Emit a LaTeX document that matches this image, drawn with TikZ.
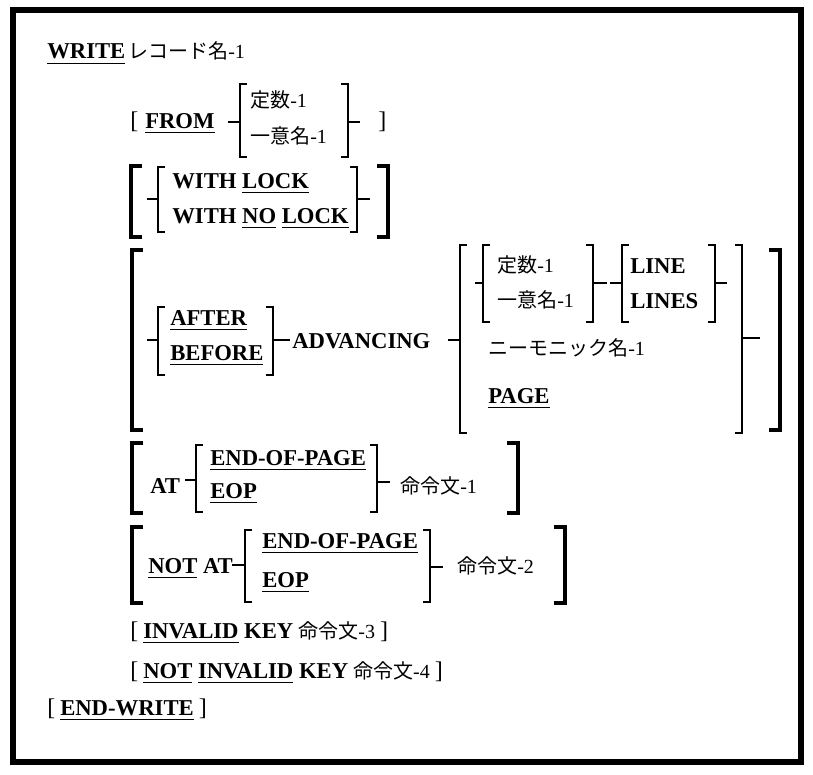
\documentclass[tikz,border=0pt]{standalone}
\usepackage{fontspec}
\setmainfont{Liberation Serif}
\newfontfamily\jp{Noto Sans CJK JP}
\newcommand\undl[1]{\setbox0\hbox{#1}\rlap{\rule[-4pt]{\wd0}{1pt}}\box0\relax}
\newcommand\B{\fontsize{17}{19}\selectfont\bfseries}
\newcommand\bk{\fontsize{18}{20}\selectfont}
\tikzset{
  t/.style={anchor=base west, inner sep=0pt, font=\fontsize{17}{19}\selectfont\bfseries},
  j/.style={anchor=base west, inner sep=0pt, font=\fontsize{15}{18}\selectfont},
  thinb/.style={line width=1.1pt, line join=miter},
  thickb/.style={line width=2.6pt, line join=miter}
}
% thin bracket with tick: x, top, bottom, tickY, tickLength
\newcommand\lbrk[5]{\draw[thinb] (#1+7,#2) -- (#1,#2) -- (#1,#3) -- (#1+7,#3);
  \draw[thinb] (#1,#4) -- (#1-#5,#4);}
\newcommand\rbrk[5]{\draw[thinb] (#1-7,#2) -- (#1,#2) -- (#1,#3) -- (#1-7,#3);
  \draw[thinb] (#1,#4) -- (#1+#5,#4);}
\newcommand\Lbig[3]{\draw[thickb] (#1+11,#2) -- (#1,#2) -- (#1,#3) -- (#1+11,#3);}
\newcommand\Rbig[3]{\draw[thickb] (#1-11,#2) -- (#1,#2) -- (#1,#3) -- (#1-11,#3);}
\begin{document}
\begin{tikzpicture}[x=0.75pt,y=-0.75pt]
\useasboundingbox (0,0) rectangle (813,774);
\draw[line width=4.5pt] (13,10) rectangle (801,762);
% line 1
\node[t] (write) at (47,59) {\undl{WRITE}};
\node[j] (rec) at (128,59) {{\jp レコード名}-1};
% line 2
\node[j,font=\bk] (lb2) at (130,128) {[};
\node[t] (from) at (145,128) {\undl{FROM}};
\lbrk{240}{84}{157}{122}{12}
\node[j] (c1) at (250,108) {{\jp 定数}-1};
\node[j] (u1) at (250,143) {{\jp 一意名}-1};
\rbrk{348}{84}{157}{122}{12}
\node[j,font=\bk] (rb2) at (378,128) {]};
% line 3
\Lbig{131}{166}{237}
\lbrk{158}{167}{232}{199}{11}
\node[t] (wl) at (172,188) {WITH \undl{LOCK}};
\node[t] (wnl) at (172,223) {WITH \undl{NO} \undl{LOCK}};
\rbrk{357}{167}{232}{199}{13}
\Rbig{388}{166}{237}
% line 4
\Lbig{132}{250}{430}
\lbrk{158}{307}{375}{340}{11}
\node[t] (after) at (170,325) {\undl{AFTER}};
\node[t] (before) at (170,360) {\undl{BEFORE}};
\rbrk{273}{307}{375}{340}{17}
\node[t] (adv) at (292,348) {ADVANCING};
\lbrk{460}{245}{433}{340}{12}
\lbrk{483}{245}{322}{283}{8}
\node[j] (c2) at (497,272) {{\jp 定数}-1};
\node[j] (u2) at (497,307) {{\jp 一意名}-1};
\rbrk{593}{245}{322}{283}{14}
\lbrk{622}{245}{322}{283}{12}
\node[t] (line) at (630,273) {LINE};
\node[t] (lines) at (630,308) {LINES};
\rbrk{715}{245}{322}{283}{12}
\node[j] (mn) at (488,355) {{\jp ニーモニック名}-1};
\node[t] (page) at (488,403) {\undl{PAGE}};
\rbrk{742}{245}{433}{338}{18}
\Rbig{780}{250}{430}
% line 5
\Lbig{132}{443}{513}
\node[t] (at1) at (150,493) {AT};
\lbrk{196}{445}{512}{480}{11}
\node[t] (eop1) at (210,465) {\undl{END-OF-PAGE}};
\node[t] (eopa) at (210,498) {\undl{EOP}};
\rbrk{377}{445}{512}{482}{13}
\node[j] (cmd1) at (400,493) {{\jp 命令文}-1};
\Rbig{518}{443}{513}
% line 6
\Lbig{132}{527}{603}
\node[t] (not1) at (148,573) {\undl{NOT} AT};
\lbrk{245}{530}{602}{565}{13}
\node[t] (eop2) at (262,548) {\undl{END-OF-PAGE}};
\node[t] (eopb) at (262,587) {\undl{EOP}};
\rbrk{430}{530}{602}{567}{13}
\node[j] (cmd2) at (457,573) {{\jp 命令文}-2};
\Rbig{565}{527}{603}
% lines 7-9
\node[j] (inv) at (130,638) {{\bk[} {\B\undl{INVALID} KEY} {\jp 命令文}-3 {\bk]}};
\node[j] (ninv) at (130,678) {{\bk[} {\B\undl{NOT} \undl{INVALID} KEY} {\jp 命令文}-4 {\bk]}};
\node[j] (ew) at (47,715) {{\bk[} {\B\undl{END-WRITE}} {\bk]}};
\end{tikzpicture}
\end{document}
